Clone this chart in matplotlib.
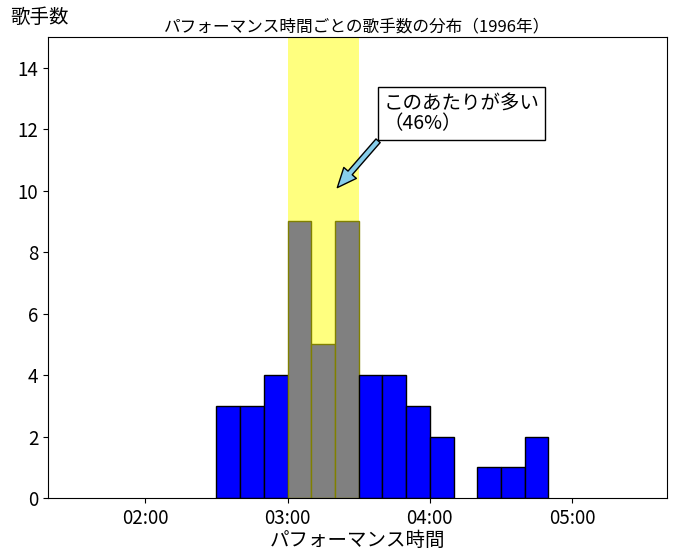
import matplotlib
matplotlib.use("Agg")
import matplotlib.pyplot as plt
from matplotlib.ticker import FuncFormatter

plt.rcParams['font.family'] = ['Noto Sans CJK JP', 'DejaVu Sans']

# 10秒ごとのビン（秒）と歌手数
bin_left = [150, 160, 170, 180, 190, 200, 210, 220, 230, 240, 250, 260, 270, 280]
counts = [3, 3, 4, 9, 5, 9, 4, 4, 3, 2, 0, 1, 1, 2]
bin_width = 10
hl_start, hl_end = 180, 210

fig = plt.figure(figsize=(6.78, 5.6), dpi=100)
ax = fig.add_axes([48 / 678, 62 / 560, 619 / 678, 461 / 560])

ax.axvspan(hl_start, hl_end, color='yellow', alpha=0.5, lw=0, zorder=0)

for x, c in zip(bin_left, counts):
    if c == 0:
        continue
    if hl_start <= x < hl_end:
        ax.bar(x, c, width=bin_width, align='edge', color='gray', edgecolor='#808000', zorder=2)
    else:
        ax.bar(x, c, width=bin_width, align='edge', color='blue', edgecolor='black', zorder=2)

ax.set_xlim(79, 340)
ax.set_ylim(0, 15)
ax.set_xticks([120, 180, 240, 300])
ax.xaxis.set_major_formatter(FuncFormatter(lambda v, p: "%02d:%02d" % (v // 60, v % 60)))
ax.set_yticks(range(0, 15, 2))
ax.tick_params(labelsize=13.5)

ax.set_xlabel("パフォーマンス時間", fontsize=14, labelpad=1)
ax.set_title("パフォーマンス時間ごとの歌手数の分布（1996年）", fontsize=12, pad=4)
fig.text(10 / 678, 1 - 17 / 560, "歌手数", fontsize=14, va='center', ha='left')

ax.annotate("このあたりが多い\n（46%）", xy=(201, 10.1), xytext=(220.5, 12.5),
            fontsize=14, va='center', ha='left', linespacing=0.95,
            bbox=dict(boxstyle='square,pad=0.3', fc='white', ec='black'),
            arrowprops=dict(facecolor='skyblue', edgecolor='black', shrink=0,
                            width=4, headwidth=12, headlength=14),
            zorder=5)

fig.savefig("out.png", dpi=100)
